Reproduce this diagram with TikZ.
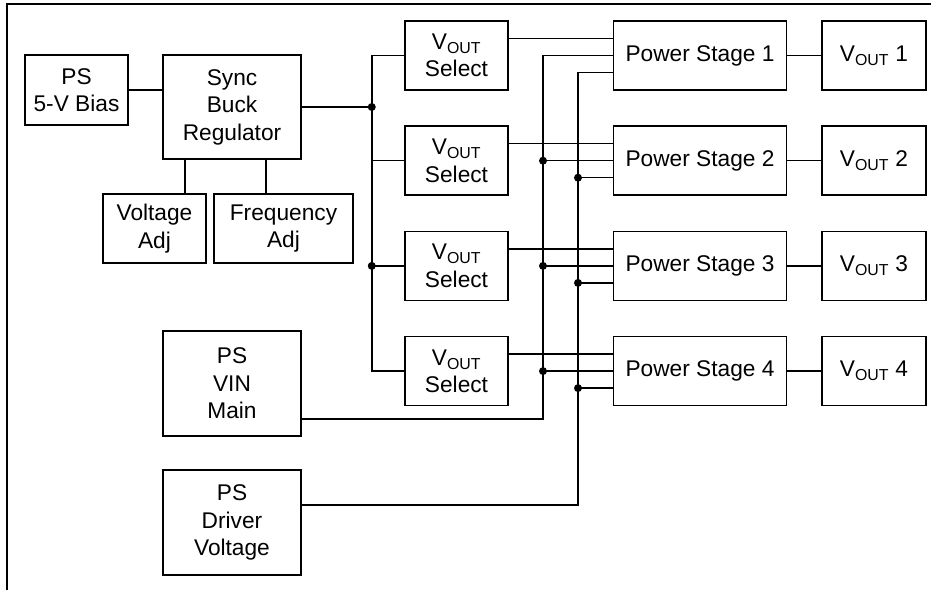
\documentclass[tikz,border=0pt]{standalone}
\usepackage{fontspec}
\setmainfont{Liberation Sans}
\usetikzlibrary{positioning}
\newcommand{\Vout}{V\textsubscript{OUT}}
\tikzset{blk/.style={draw, inner sep=0pt, align=center}}

\begin{document}
\begin{tikzpicture}[x=1pt, y=-1pt, line width=1.5pt,
        font=\fontsize{22.7}{27.5}\selectfont]
            \useasboundingbox (0,0) rectangle (931,590);
            \draw (7,590) |- (931,4);

            \node [blk, minimum width=103pt, minimum height=70pt] (bias) at (76.5,90) {PS\\5-V Bias};
            \node [blk, minimum width=138pt, minimum height=104pt] (buck) at (232,107) {Sync\\Buck\\Regulator};
            \node [blk, minimum width=103pt, minimum height=69pt] (vadj) at (154.5,228.5) {Voltage\\Adj};
            \node [blk, minimum width=139pt, minimum height=69pt] (fadj) at (283.5,228.5) {Frequency\\Adj};
            \node [blk, minimum width=138pt, minimum height=105pt] (vin) at (232,383.5) {PS\\VIN\\Main};
            \node [blk, minimum width=138pt, minimum height=105pt] (drv) at (232,522.5) {PS\\Driver\\Voltage};

            \node [blk, minimum width=103pt, minimum height=69pt] (sel1) at (456.5,55.5) {\Vout\\Select};
            \node [blk, minimum width=103pt, minimum height=69pt, below=34.7pt of sel1] (sel2) {\Vout\\Select};
            \node [blk, minimum width=103pt, minimum height=69pt, below=34.7pt of sel2] (sel3) {\Vout\\Select};
            \node [blk, minimum width=103pt, minimum height=69pt, below=34.7pt of sel3] (sel4) {\Vout\\Select};
            \node [blk, minimum width=173pt, minimum height=69pt, right=104pt of sel1] (ps1) {Power Stage 1};
            \node [blk, minimum width=173pt, minimum height=69pt, right=104pt of sel2] (ps2) {Power Stage 2};
            \node [blk, minimum width=173pt, minimum height=69pt, right=104pt of sel3] (ps3) {Power Stage 3};
            \node [blk, minimum width=173pt, minimum height=69pt, right=104pt of sel4] (ps4) {Power Stage 4};
            \node [blk, minimum width=104pt, minimum height=69pt, right=34pt of ps1] (out1) {\Vout\ 1};
            \node [blk, minimum width=104pt, minimum height=69pt, right=34pt of ps2] (out2) {\Vout\ 2};
            \node [blk, minimum width=104pt, minimum height=69pt, right=34pt of ps3] (out3) {\Vout\ 3};
            \node [blk, minimum width=104pt, minimum height=69pt, right=34pt of ps4] (out4) {\Vout\ 4};

            % left side
            \coordinate (va) at ([xshift=30.5pt]vadj.north);
            \coordinate (fa) at ([xshift=-17.5pt]fadj.north);
            \coordinate (bus) at ([xshift=70pt]buck.east);
            \draw (bias) -- (bias -| buck.west);
            \draw (va) -- (va |- buck.south);
            \draw (fa) -- (fa |- buck.south);
            \draw (buck.east) -- (bus);
            \draw (sel1.west) -| (bus) |- (sel4.west);
            \draw (sel2.west) -- (sel2.west -| bus);
            \draw (sel3.west) -- (sel3.west -| bus);
            \fill (bus) circle (4pt);
            \fill (sel3.west -| bus) circle (4pt);

            % select to power stage
            \draw ([yshift=17pt]sel1.east) -- ([yshift=17pt]ps1.west);
            \draw ([yshift=17pt]sel2.east) -- ([yshift=17pt]ps2.west);
            \draw ([yshift=17pt]sel3.east) -- ([yshift=17pt]ps3.west);
            \draw ([yshift=17pt]sel4.east) -- ([yshift=17pt]ps4.west);
            \draw (ps1) -- (out1);
            \draw (ps2) -- (out2);
            \draw (ps3) -- (out3);
            \draw (ps4) -- (out4);

            % supply rails
            \coordinate (m) at (543,0);
            \coordinate (b) at (578,0);
            \coordinate (vinout) at ([yshift=-35.5pt]vin.east);
            \coordinate (drvout) at ([yshift=17.5pt]drv.east);
            \coordinate (lo1) at ([yshift=-17pt]ps1.west);
            \coordinate (lo2) at ([yshift=-17pt]ps2.west);
            \coordinate (lo3) at ([yshift=-17pt]ps3.west);
            \coordinate (lo4) at ([yshift=-17pt]ps4.west);
            \draw (ps1.west) -| (vinout -| m) -- (vinout);
            \draw (lo1) -| (drvout -| b) -- (drvout);
            \draw (ps2.west) -- (ps2.west -| m);
            \draw (ps3.west) -- (ps3.west -| m);
            \draw (ps4.west) -- (ps4.west -| m);
            \draw (lo2) -- (lo2 -| b);
            \draw (lo3) -- (lo3 -| b);
            \draw (lo4) -- (lo4 -| b);
            \fill (ps2.west -| m) circle (4pt);
            \fill (ps3.west -| m) circle (4pt);
            \fill (ps4.west -| m) circle (4pt);
            \fill (lo2 -| b) circle (4pt);
            \fill (lo3 -| b) circle (4pt);
            \fill (lo4 -| b) circle (4pt);
        \end{tikzpicture}
\end{document}
